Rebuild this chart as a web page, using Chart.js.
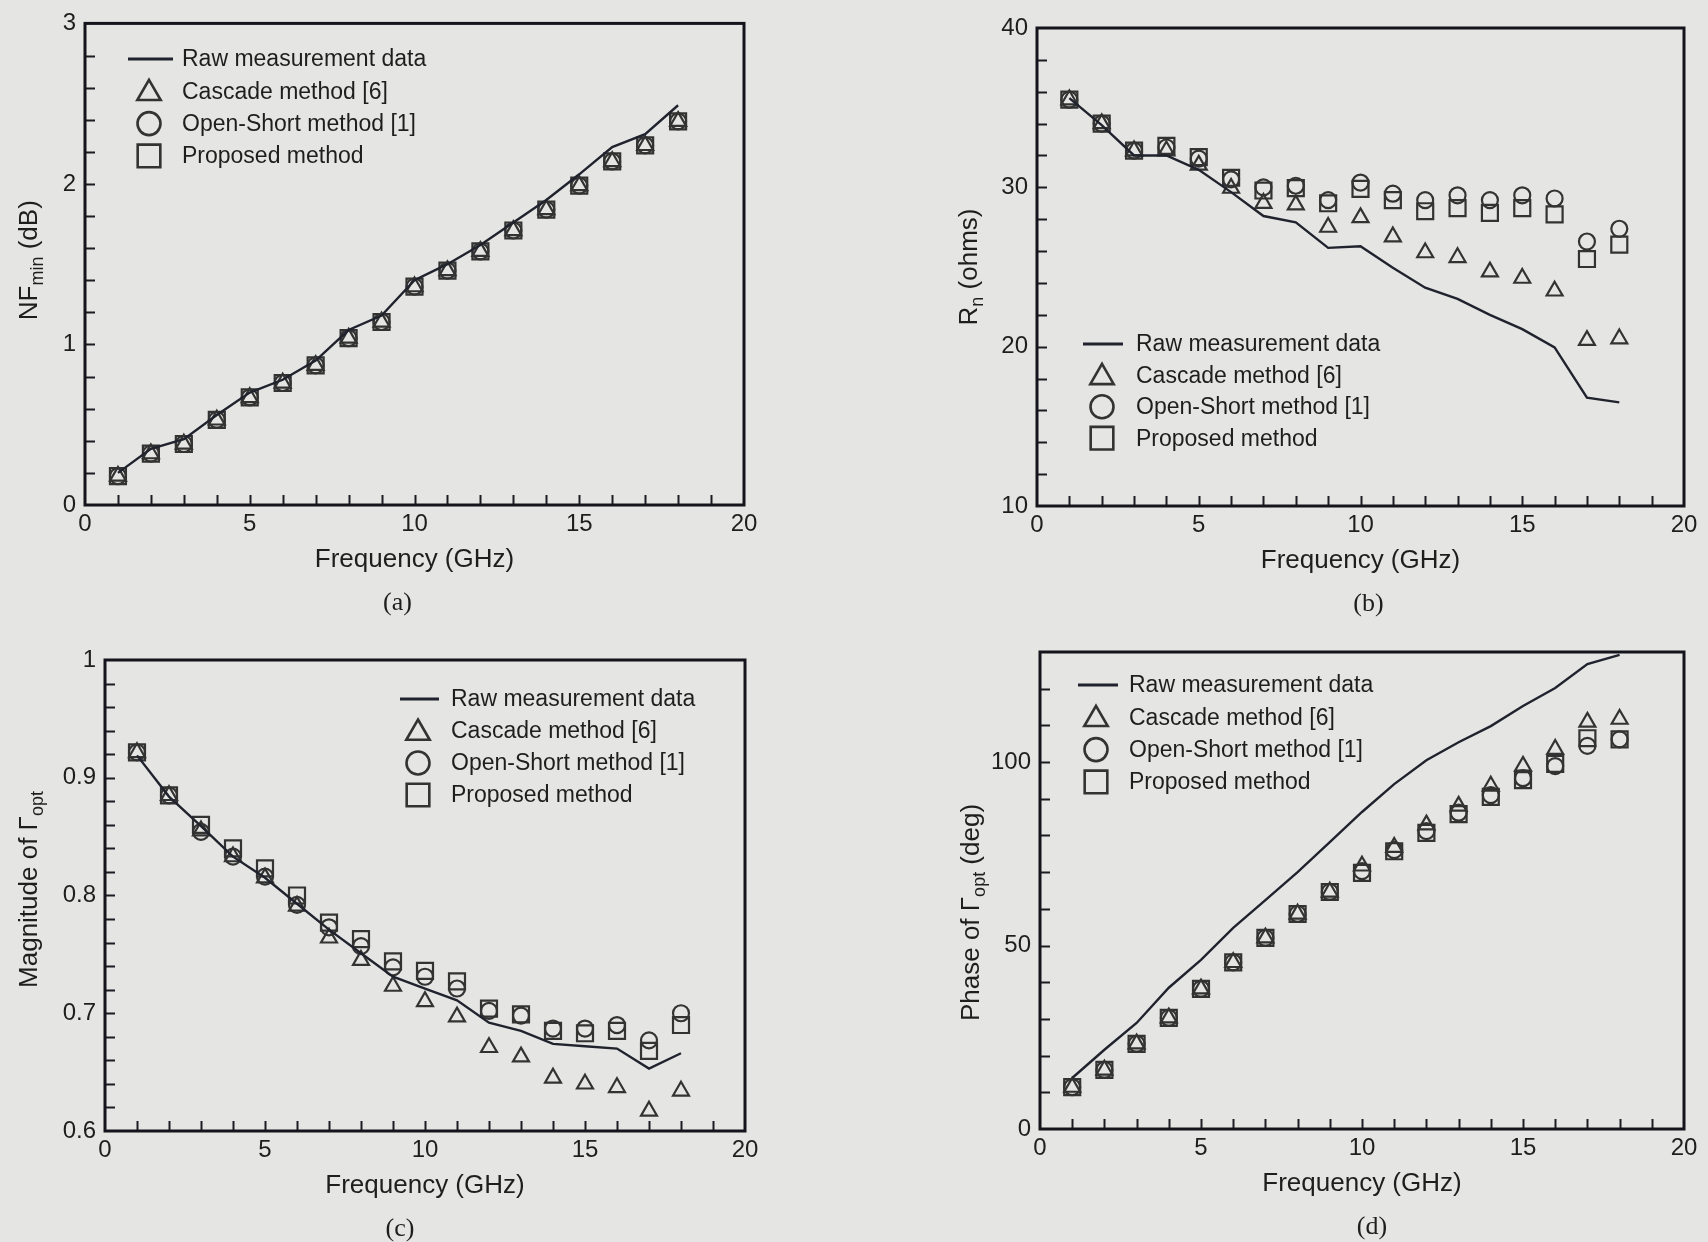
<!DOCTYPE html>
<html><head><meta charset="utf-8">
<script src="https://cdn.jsdelivr.net/npm/chart.js@4/dist/chart.umd.min.js"></script>
<style>
html,body{margin:0;padding:0;background:#e5e5e3;}
body{width:1708px;height:1242px;position:relative;overflow:hidden;}
.p{position:absolute;width:854px;height:621px;}
canvas{display:block;}
</style></head><body>
<div class="p" style="left:0;top:0"><canvas id="ca" width="854" height="621"></canvas></div>
<div class="p" style="left:854px;top:0"><canvas id="cb" width="854" height="621"></canvas></div>
<div class="p" style="left:0;top:621px"><canvas id="cc" width="854" height="621"></canvas></div>
<div class="p" style="left:854px;top:621px"><canvas id="cd" width="854" height="621"></canvas></div>
<script>
// ---------- data ----------
const freq = [1,2,3,4,5,6,7,8,9,10,11,12,13,14,15,16,17,18];
const seriesNames = ['Raw measurement data','Cascade method [6]','Open-Short method [1]','Proposed method'];
const xTicks = [0,5,10,15,20];

// (a) NFmin (dB)
const nfRaw       = [0.20,0.35,0.41,0.56,0.70,0.78,0.90,1.09,1.18,1.40,1.50,1.62,1.76,1.90,2.06,2.23,2.31,2.49];
const nfCascade   = [0.18,0.32,0.38,0.53,0.67,0.76,0.87,1.04,1.14,1.36,1.46,1.58,1.71,1.84,1.99,2.14,2.24,2.39];
const nfOpenShort = [0.18,0.32,0.38,0.53,0.67,0.76,0.87,1.04,1.14,1.36,1.46,1.58,1.71,1.84,1.99,2.14,2.24,2.39];
const nfProposed  = [0.18,0.32,0.38,0.53,0.67,0.76,0.87,1.04,1.14,1.36,1.46,1.58,1.71,1.84,1.99,2.14,2.24,2.39];
const nfTicks = [0,1,2,3];

// (b) Rn (ohms)
const rnRaw       = [35.6,33.9,32.0,32.0,31.1,29.7,28.2,27.8,26.2,26.3,24.95,23.7,23.0,22.0,21.1,19.95,16.8,16.5];
const rnCascade   = [35.5,34.0,32.3,32.3,31.4,29.95,29.0,28.9,27.5,28.1,26.9,25.9,25.6,24.7,24.3,23.5,20.4,20.5];
const rnOpenShort = [35.5,34.0,32.3,32.5,31.8,30.5,30.0,30.1,29.2,30.3,29.6,29.2,29.5,29.2,29.5,29.3,26.6,27.4];
const rnProposed  = [35.5,34.0,32.3,32.6,31.9,30.6,29.8,29.95,29.0,29.9,29.2,28.5,28.7,28.4,28.7,28.3,25.5,26.4];
const rnTicks = [10,20,30,40];

// (c) Magnitude of Gamma_opt
const magRaw       = [0.919,0.884,0.859,0.833,0.815,0.793,0.771,0.751,0.731,0.721,0.711,0.692,0.685,0.674,0.672,0.670,0.653,0.666];
const magCascade   = [0.9215,0.885,0.855,0.833,0.815,0.791,0.764,0.745,0.723,0.710,0.697,0.671,0.663,0.645,0.640,0.637,0.617,0.634];
const magOpenShort = [0.9215,0.885,0.854,0.833,0.816,0.792,0.773,0.757,0.739,0.731,0.721,0.702,0.698,0.687,0.687,0.690,0.677,0.700];
const magProposed  = [0.9215,0.885,0.860,0.840,0.823,0.800,0.777,0.763,0.744,0.736,0.727,0.704,0.699,0.685,0.683,0.685,0.668,0.690];
const magTicks = [0.6,0.7,0.8,0.9,1];

// (d) Phase of Gamma_opt (deg)
const phRaw       = [13.9,21.6,28.9,38.5,46.1,54.8,62.4,70.0,78.2,86.4,94.0,100.5,105.4,109.8,115.3,120.2,126.7,129.2];
const phCascade   = [11.4,16.1,23.2,30.3,38.2,45.4,52.1,58.6,64.6,71.7,76.8,82.9,88.0,93.5,98.9,103.5,110.9,111.7];
const phOpenShort = [11.4,16.1,23.2,30.3,38.2,45.4,52.1,58.6,64.6,70.3,76.0,81.2,86.2,91.0,95.6,98.9,104.4,106.2];
const phProposed  = [11.4,16.1,23.2,30.3,38.2,45.4,52.1,58.6,64.6,69.8,75.7,80.7,85.8,90.5,95.1,99.5,106.5,106.2];
const phTicks = [0,50,100];

// ---------- styling ----------
const FONT = '"Liberation Sans", Arial, Helvetica, sans-serif';
const INK = '#1e1e1e';
const LINEC = '#20232e';
const MARK = '#333333';
const W = 854, H = 621;

function xy(arr){ return freq.map((f,i)=>({x:f,y:arr[i]})); }
function fmt(v){ return String(Math.round(v*1000)/1000); }

function decoPlugin(p){
  return {
    id:'deco',
    afterDraw(chart){
      const ctx = chart.ctx, a = chart.chartArea;
      const xs = chart.scales.x, ys = chart.scales.y;
      ctx.save();
      // inward ticks
      ctx.strokeStyle = '#1c1c24'; ctx.lineWidth = 2;
      ctx.beginPath();
      for (let v = xs.min + p.xMinor; v < xs.max - 1e-9; v += p.xMinor){
        const px = Math.round(xs.getPixelForValue(v)) + 0.5;
        ctx.moveTo(px, a.bottom); ctx.lineTo(px, a.bottom - 10);
      }
      for (let k = 1; ; k++){
        const v = ys.min + k*p.yMinor;
        if (v > ys.max - p.yMinor*0.01) break;
        const py = Math.round(ys.getPixelForValue(v)) + 0.5;
        ctx.moveTo(a.left, py); ctx.lineTo(a.left + 10, py);
      }
      ctx.stroke();
      // frame
      ctx.strokeStyle = '#14141c'; ctx.lineWidth = 3;
      ctx.strokeRect(a.left, a.top, a.right - a.left, a.bottom - a.top);
      // x title
      ctx.fillStyle = INK;
      ctx.font = '26px ' + FONT; ctx.textAlign = 'center'; ctx.textBaseline = 'middle';
      ctx.fillText('Frequency (GHz)', (a.left + a.right)/2, a.bottom + 55);
      // panel label
      ctx.font = '26px "Liberation Serif", "Times New Roman", serif';
      ctx.fillText(p.panel, (a.left + a.right)/2 + p.panelShift, a.bottom + 98);
      // y title with subscript
      ctx.save();
      ctx.translate(a.left - p.yTitleOff, (a.top + a.bottom)/2 + (p.yTitleShift||0));
      ctx.rotate(-Math.PI/2);
      const mainF = '26px ' + FONT, subF = '18px ' + FONT;
      let total = 0;
      p.yTitle.forEach(s => { ctx.font = s.sub ? subF : mainF; total += ctx.measureText(s.t).width; });
      let cx = -total/2;
      ctx.textAlign = 'left'; ctx.textBaseline = 'middle';
      p.yTitle.forEach(s => {
        ctx.font = s.sub ? subF : mainF;
        ctx.fillText(s.t, cx, s.sub ? 8 : 0);
        cx += ctx.measureText(s.t).width;
      });
      ctx.restore();
      // legend
      const L = p.legend;
      ctx.font = '23px ' + FONT; ctx.textAlign = 'left'; ctx.textBaseline = 'middle';
      chart.data.datasets.forEach((d, i) => {
        const y = L.y + i*L.dy;
        ctx.fillStyle = INK;
        ctx.fillText(d.label, L.textX, y + 1);
        if (i === 0){
          ctx.strokeStyle = LINEC; ctx.lineWidth = 3;
          ctx.beginPath(); ctx.moveTo(L.lineX0, y); ctx.lineTo(L.lineX1, y); ctx.stroke();
        } else {
          const r = {triangle:13.5, circle:11.5, rect:16}[d.pointStyle];
          ctx.strokeStyle = MARK; ctx.fillStyle = 'rgba(0,0,0,0)';
          ctx.lineWidth = 2.6;
          Chart.helpers.drawPoint(ctx, {pointStyle:d.pointStyle, radius:r, rotation:0, borderWidth:2.6}, L.markX, y + (d.pointStyle==='triangle'?2:0));
        }
      });
      ctx.restore();
    }
  };
}

function makeChart(id, p){
  const mk = (label, data, style, r) => ({
    label, data: xy(data), showLine:false, pointStyle:style, pointRadius:r,
    pointBorderColor:MARK, pointBackgroundColor:'rgba(0,0,0,0)', pointBorderWidth:2.2, clip:false
  });
  const datasets = [
    {label:seriesNames[0], data:xy(p.raw), showLine:true, borderColor:LINEC, borderWidth:2.4,
     pointRadius:0, fill:false, tension:0, clip:false},
    mk(seriesNames[1], p.cas, 'triangle', 9.2),
    mk(seriesNames[2], p.os, 'circle', 8),
    mk(seriesNames[3], p.pr, 'rect', 11.3)
  ];
  const tickFont = {family: FONT, size: 24};
  new Chart(document.getElementById(id), {
    type:'scatter',
    data:{datasets},
    options:{
      responsive:false, animation:false, devicePixelRatio:1,
      layout:{padding:{left:0, top:p.area.top, right:W - p.area.right, bottom:0}},
      plugins:{legend:{display:false}, tooltip:{enabled:false}},
      scales:{
        x:{type:'linear', min:0, max:20,
           grid:{display:false, drawTicks:false}, border:{display:false},
           ticks:{font:tickFont, color:INK, padding:5, maxRotation:0, autoSkip:false, callback:fmt},
           afterBuildTicks:s => { s.ticks = xTicks.map(v => ({value:v})); },
           afterFit:s => { s.height = H - p.area.bottom; }},
        y:{type:'linear', min:p.yMin, max:p.yMax,
           grid:{display:false, drawTicks:false}, border:{display:false},
           ticks:{font:tickFont, color:INK, padding:9, autoSkip:false, callback:fmt},
           afterBuildTicks:s => { s.ticks = p.yTicks.map(v => ({value:v})); },
           afterFit:s => { s.width = p.area.left; }}
      }
    },
    plugins:[decoPlugin(p)]
  });
}

makeChart('ca', {
  raw:nfRaw, cas:nfCascade, os:nfOpenShort, pr:nfProposed,
  yMin:0, yMax:3, yTicks:nfTicks, xMinor:1, yMinor:0.2,
  area:{left:85, top:19, right:744, bottom:505},
  yTitle:[{t:'NF'},{t:'min',sub:true},{t:' (dB)'}], yTitleOff:55, yTitleShift:-4,
  panel:'(a)', panelShift:-17,
  legend:{y:59, dy:32.3, lineX0:128, lineX1:173, markX:149, textX:182}
});
makeChart('cb', {
  raw:rnRaw, cas:rnCascade, os:rnOpenShort, pr:rnProposed,
  yMin:10, yMax:40, yTicks:rnTicks, xMinor:1, yMinor:2,
  area:{left:183, top:28, right:830, bottom:506},
  yTitle:[{t:'R'},{t:'n',sub:true},{t:' (ohms)'}], yTitleOff:67, yTitleShift:0,
  panel:'(b)', panelShift:8,
  legend:{y:344, dy:31.4, lineX0:229, lineX1:269, markX:248, textX:282}
});
makeChart('cc', {
  raw:magRaw, cas:magCascade, os:magOpenShort, pr:magProposed,
  yMin:0.6, yMax:1, yTicks:magTicks, xMinor:1, yMinor:0.02,
  area:{left:105, top:39, right:745, bottom:510},
  yTitle:[{t:'Magnitude of \u0393'},{t:'opt',sub:true}], yTitleOff:75, yTitleShift:-6,
  panel:'(c)', panelShift:-25,
  legend:{y:78, dy:32, lineX0:400, lineX1:439, markX:418, textX:451}
});
makeChart('cd', {
  raw:phRaw, cas:phCascade, os:phOpenShort, pr:phProposed,
  yMin:0, yMax:130, yTicks:phTicks, xMinor:1, yMinor:10,
  area:{left:186, top:31, right:830, bottom:508},
  yTitle:[{t:'Phase of \u0393'},{t:'opt',sub:true},{t:' (deg)'}], yTitleOff:68, yTitleShift:22,
  panel:'(d)', panelShift:10,
  legend:{y:64, dy:32.3, lineX0:224, lineX1:264, markX:242, textX:275}
});
</script>
</body></html>
